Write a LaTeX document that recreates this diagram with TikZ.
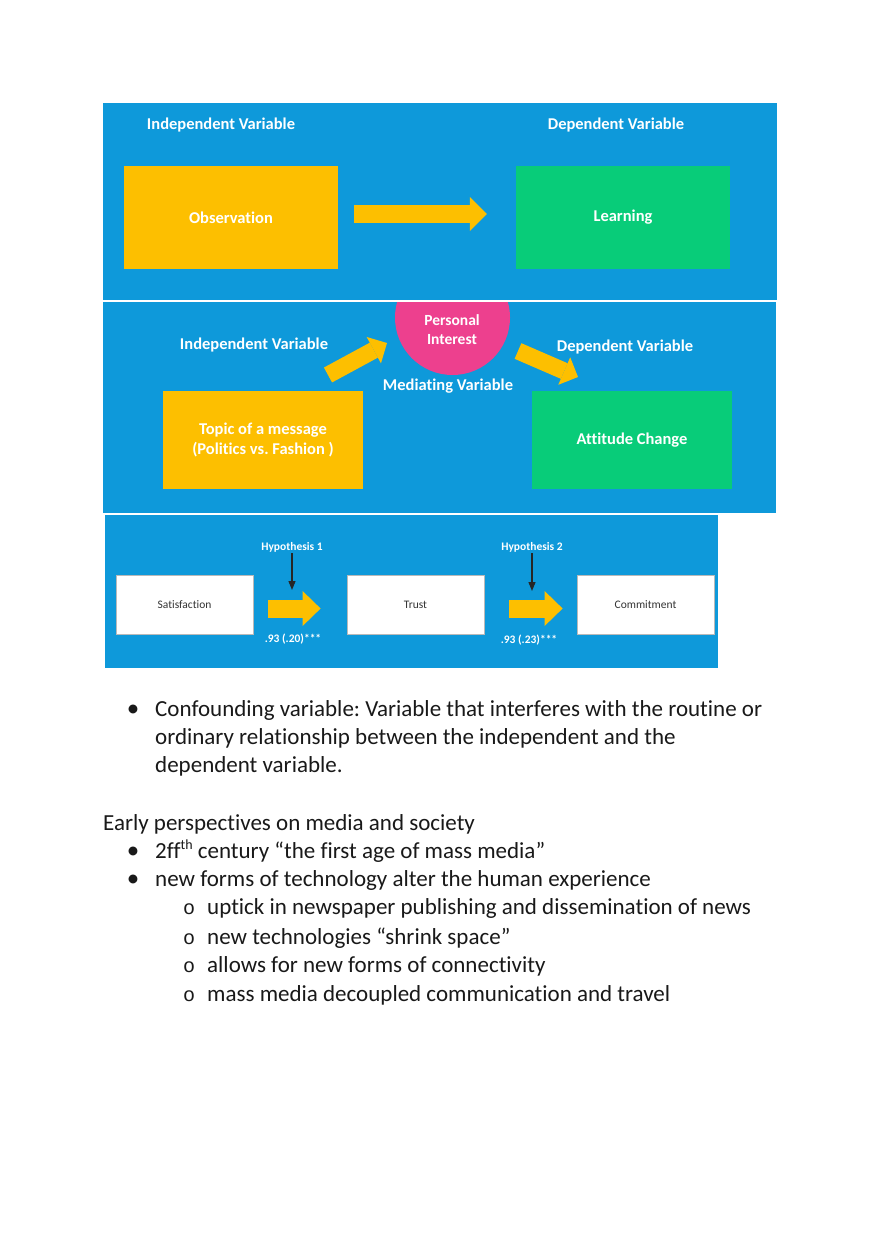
\documentclass[tikz,border=0pt]{standalone}
\usepackage{fontspec}
\setmainfont{Carlito}[Ligatures=NoCommon]
\newfontfamily\monofont{Liberation Mono}
\usetikzlibrary{arrows.meta,positioning}
\definecolor{panelblue}{RGB}{14,153,218}
\definecolor{boxyellow}{RGB}{253,191,0}
\definecolor{boxgreen}{RGB}{8,204,121}
\definecolor{interestpink}{RGB}{237,64,142}
\definecolor{bodyblack}{RGB}{25,25,25}
\frenchspacing
\begin{document}
\begin{tikzpicture}[x=1pt,y=-1pt,
  vlabel/.style={text=white,inner sep=1pt,font=\bfseries\fontsize{16.5}{19}\selectfont},
  varbox/.style={minimum width=214pt,minimum height=103pt,inner sep=0pt,text=white,align=center,font=\bfseries\fontsize{16.5}{19.5}\selectfont},
  ratebox/.style={fill=white,draw=gray!55,line width=.8pt,minimum width=137pt,minimum height=59pt,inner sep=0pt,text=black!80,font=\fontsize{11.5}{13}\selectfont},
  hyplabel/.style={text=white,inner sep=1pt,font=\bfseries\fontsize{11.5}{13}\selectfont},
  blockarrow/.style={draw=boxyellow,line width=18pt,-{Triangle[width=34pt,length=17pt,line width=0pt]}},
  hyparrow/.style={draw=black!85,line width=1.3pt,-{Triangle[width=7pt,length=9pt]}},
  bodytext/.style={anchor=base west,inner sep=0pt,text=bodyblack,font=\fontsize{23}{28}\selectfont},
  bullet/.style={anchor=base,inner sep=0pt,text=bodyblack,font=\fontsize{25}{28}\selectfont},
  subbullet/.style={anchor=base,inner sep=0pt,text=bodyblack,font=\monofont\fontsize{20}{28}\selectfont}]
\useasboundingbox[fill=white] (0,0) rectangle (880,1247);

% first picture
\fill[panelblue] (103,103) rectangle (777,300);
\node[vlabel] (iv1) at (221,125) {Independent Variable};
\node[vlabel] (dv1) at (616,125) {Dependent Variable};
\node[varbox,fill=boxyellow] (obs) at (231,217.5) {Observation};
\node[varbox,fill=boxgreen] (learn) at (623,217.5) {Learning};
\draw[blockarrow] ([shift={(16,-3.5)}]obs.east) -- ([shift={(-29,-3.5)}]learn.west);

% second picture
\fill[panelblue] (103,302) rectangle (776,513);
\begin{scope}
  \clip (103,302) rectangle (776,513);
  \node[circle,fill=interestpink,minimum size=115pt,inner sep=0pt] (interest) at (452.5,317.5) {};
\end{scope}
\node[vlabel,align=center,font=\bfseries\fontsize{15.5}{18.5}\selectfont] (pi) at (452,329.5) {Personal\\Interest};
\node[vlabel] (mv) at (448,386) {Mediating Variable};
\node[vlabel] (iv2) at (254,345) {Independent Variable};
\node[vlabel] (dv2) at (625,347) {Dependent Variable};
\node[varbox,fill=boxyellow,minimum width=200pt,minimum height=98pt] (topic) at (263,440) {Topic of a message\\(Politics vs. Fashion )};
\node[varbox,fill=boxgreen,minimum width=200pt,minimum height=98pt] (attitude) at (632,440) {Attitude Change};
\coordinate (m1tail) at (328,375);
\coordinate (m1tip) at (387,343);
\coordinate (m2tail) at (518,351);
\coordinate (m2tip) at (578,377);
\draw[blockarrow,line width=17pt,-{Triangle[width=30pt,length=15pt,line width=0pt]}] (m1tail) -- (m1tip);
\draw[blockarrow,line width=17pt,-{Triangle[width=30pt,length=15pt,line width=0pt]}] (m2tail) -- (m2tip);

% third picture
\fill[panelblue] (105,515) rectangle (718,668);
\node[ratebox] (sat) at (184.5,604.5) {Satisfaction};
\node[ratebox] (trust) at (415.5,604.5) {Trust};
\node[ratebox] (commit) at (645.5,604.5) {Commitment};
\node[hyplabel] (h1) at (292,547) {Hypothesis 1};
\node[hyplabel] (h2) at (532,547) {Hypothesis 2};
\coordinate (h1end) at (292,590);
\coordinate (h2end) at (532,591);
\draw[blockarrow,-{Triangle[width=35pt,length=18pt,line width=0pt]}] ([shift={(15,4)}]sat.east) -- ([shift={(-26,4)}]trust.west);
\draw[blockarrow,-{Triangle[width=35pt,length=18pt,line width=0pt]}] ([shift={(25,4)}]trust.east) -- ([shift={(-14,4)}]commit.west);
\draw[hyparrow] (h1.south) -- (h1end);
\draw[hyparrow] (h2.south) -- (h2end);
\node[hyplabel] (r1) at (293,639) {.93 (.20)***};
\node[hyplabel] (r2) at (529,640) {.93 (.23)***};

% text below
\node[bullet] (b1) at (133,716.5) {•};
\node[bodytext] (l1) at (155,716.5) {Confounding variable: Variable that interferes with the routine or};
\node[bodytext] (l2) at (155,744.5) {ordinary relationship between the independent and the};
\node[bodytext] (l3) at (155,772.5) {dependent variable.};
\node[bodytext] (early) at (103,830.5) {Early perspectives on media and society};
\node[bullet] (b2) at (133,858.5) {•};
\node[bodytext] (l4) at (155,858.5) {2ff\raisebox{.38em}{\fontsize{14}{14}\selectfont th} century “the first age of mass media”};
\node[bullet] (b3) at (133,886.5) {•};
\node[bodytext] (l5) at (155,886.5) {new forms of technology alter the human experience};
\node[subbullet] (o1) at (189,914.5) {o};
\node[bodytext] (s1) at (207,914.5) {uptick in newspaper publishing and dissemination of news};
\node[subbullet] (o2) at (189,944.5) {o};
\node[bodytext] (s2) at (207,944.5) {new technologies “shrink space”};
\node[subbullet] (o3) at (189,972.5) {o};
\node[bodytext] (s3) at (207,972.5) {allows for new forms of connectivity};
\node[subbullet] (o4) at (189,1001.5) {o};
\node[bodytext] (s4) at (207,1001.5) {mass media decoupled communication and travel};
\end{tikzpicture}
\end{document}
